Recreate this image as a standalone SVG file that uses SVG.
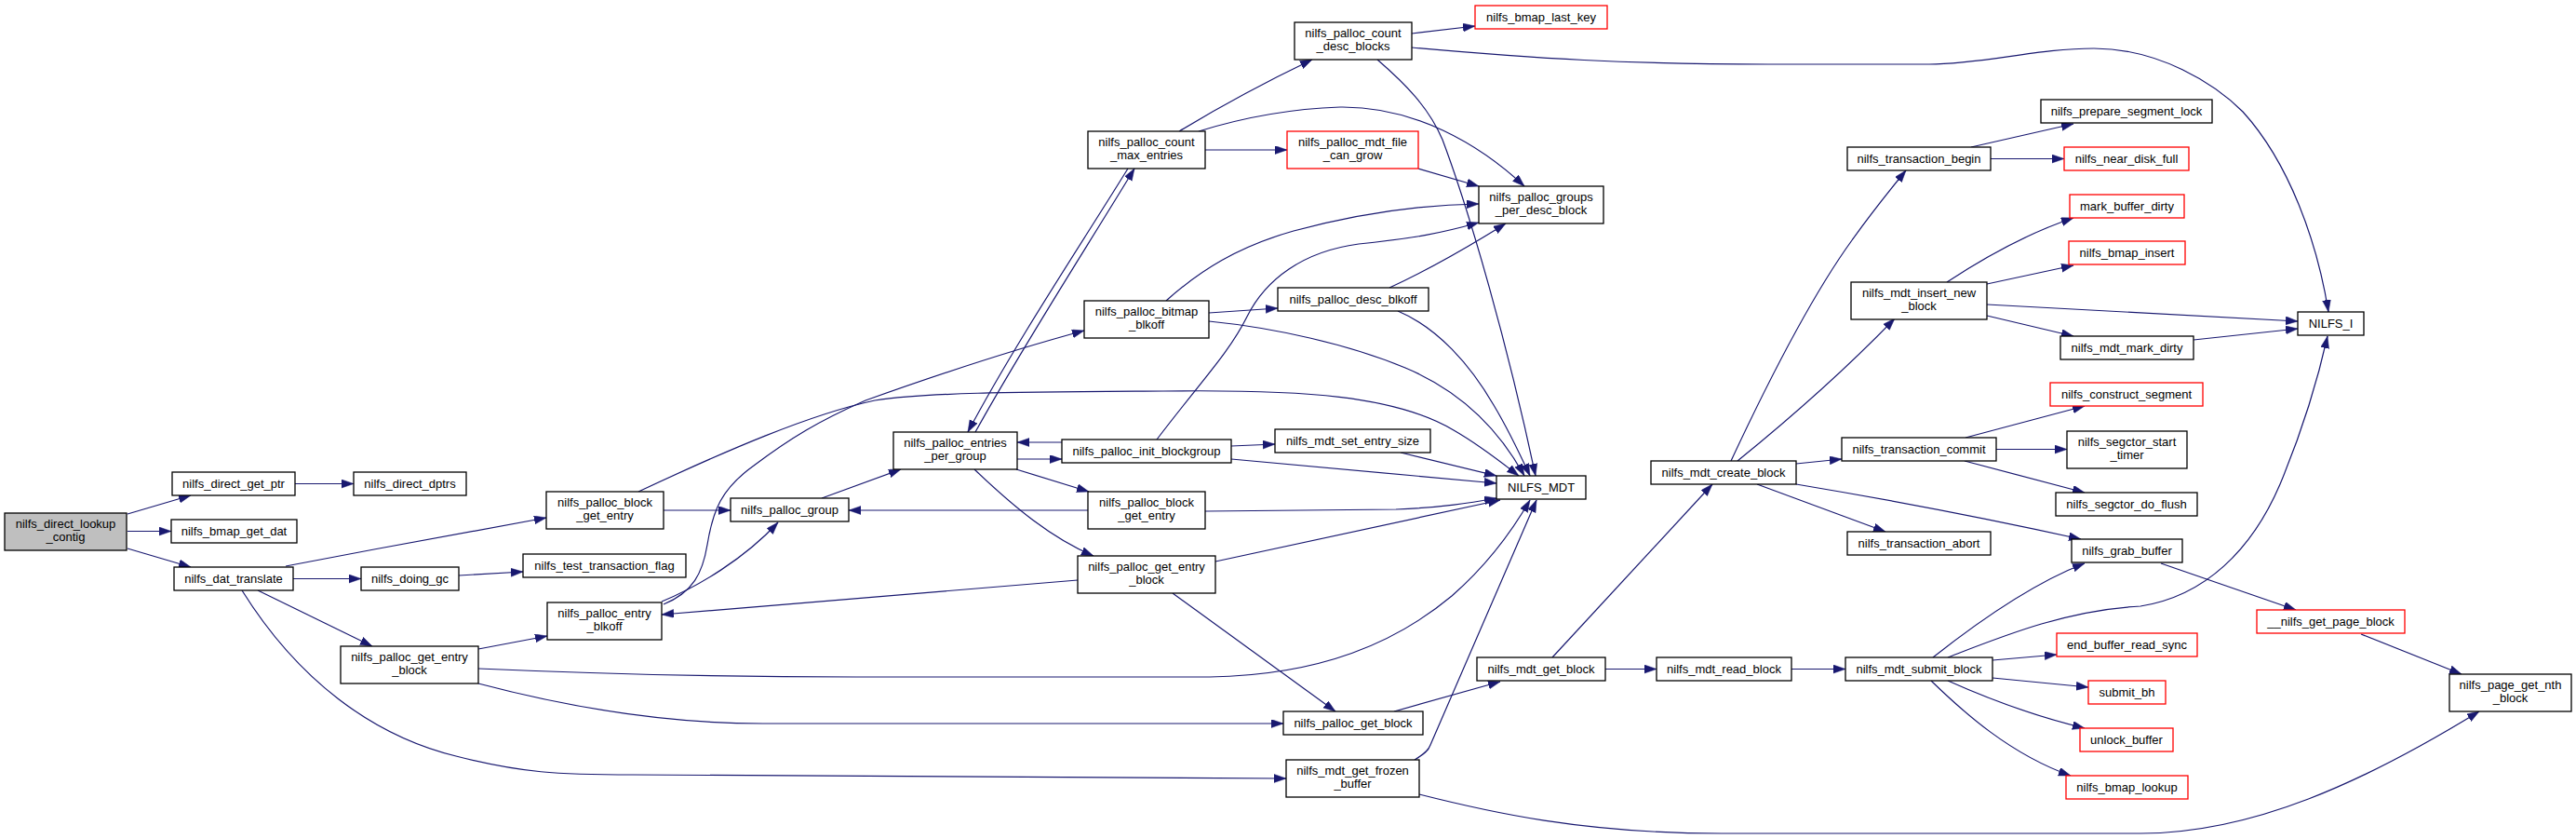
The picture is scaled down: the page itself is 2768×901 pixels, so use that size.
<svg xmlns="http://www.w3.org/2000/svg" width="2768" height="901" viewBox="0 0 2768 901">
<style>
.n rect{fill:#fff;stroke:#000;stroke-width:1.3}
.n.red rect{stroke:#ff0000}
.n.root rect{fill:#bfbfbf}
text{font-family:"Liberation Sans",Arial,Helvetica,sans-serif;font-size:13px;text-anchor:middle;fill:#000}
#edges path{fill:none;stroke:#191970;stroke-width:1.2;marker-end:url(#ah)}
</style>
<defs>
<marker id="ah" markerUnits="userSpaceOnUse" markerWidth="14" markerHeight="10" refX="13" refY="4.5" orient="auto">
<path d="M0,0 L13,4.5 L0,9 z" fill="#191970" stroke="#191970" stroke-width="0.5"/>
</marker>
</defs>
<rect width="2768" height="901" fill="#fff"/>
<g id="edges">
<path d="M137,552 L205,532"/>
<path d="M137,570.5 L184,570.5"/>
<path d="M137,589 L205,609"/>
<path d="M317,519.5 L380,519.5"/>
<path d="M307,608 C400,590 500,572 587,556"/>
<path d="M315,621.5 L388,621.5"/>
<path d="M277,634 L400,694"/>
<path d="M260,634 C320,730 400,790 490,812 C560,830 600,832 680,832 L1382,836"/>
<path d="M493,618 L562,614"/>
<path d="M514,697 L588,683"/>
<path d="M514,734 C620,762 720,777 820,777 L1379,777"/>
<path d="M514,718 C650,724 800,727 920,727 L1300,727 C1420,725 1500,690 1560,640 C1600,605 1625,570 1644,537"/>
<path d="M713,548 L785,548"/>
<path d="M686,528 C780,484 870,445 940,430 C1000,421 1100,421 1250,420 C1400,418 1500,425 1562,462 C1590,478 1610,494 1632,511"/>
<path d="M711,646 C750,630 800,600 836,561"/>
<path d="M713,649 C745,636 755,615 760,585 C766,548 775,525 810,500 C850,470 880,452 930,430 C1000,405 1080,378 1165,355"/>
<path d="M883,535 L968,504"/>
<path d="M1267,141 C1310,115 1360,88 1410,64"/>
<path d="M1295,161 L1383,161"/>
<path d="M1288,141 C1330,128 1380,117 1440,115 C1520,114 1590,155 1638,200"/>
<path d="M1212,181 C1160,265 1090,370 1040,464"/>
<path d="M1048,464 C1100,370 1170,262 1219,181"/>
<path d="M1093,493 L1141,493"/>
<path d="M1141,475 L1093,475"/>
<path d="M1092,504 L1170,528"/>
<path d="M1047,504 C1090,545 1130,578 1175,597"/>
<path d="M1243,472 C1290,410 1320,380 1340,340 C1360,300 1400,270 1460,262 C1520,256 1550,250 1589,239"/>
<path d="M1323,479 L1370,477"/>
<path d="M1323,493 L1608,519"/>
<path d="M1169,548 L912,548"/>
<path d="M1295,549 L1500,547 C1550,545 1580,540 1608,535"/>
<path d="M1158,623 L711,660"/>
<path d="M1306,603 L1612,537"/>
<path d="M1260,637 L1435,764"/>
<path d="M1517,36 L1585,28"/>
<path d="M1480,64 C1510,90 1535,115 1550,150 C1580,230 1620,370 1650,511"/>
<path d="M1517,51 C1650,63 1750,69 1900,69 L2073,69 C2130,69 2190,52 2250,52 C2320,52 2380,90 2410,120 C2460,175 2490,260 2502,335"/>
<path d="M1524,181 L1589,200"/>
<path d="M1299,336 L1373,331"/>
<path d="M1253,323 C1290,290 1330,265 1390,248 C1450,232 1520,220 1589,219"/>
<path d="M1299,345 C1370,352 1450,370 1510,395 C1570,420 1610,460 1638,511"/>
<path d="M1493,309 C1530,292 1570,270 1618,240"/>
<path d="M1502,334 C1545,352 1580,392 1605,435 C1620,460 1632,485 1644,511"/>
<path d="M1505,486 L1608,511"/>
<path d="M1498,764 L1612,732"/>
<path d="M1520,816 C1530,810 1535,806 1537,800 L1651,537"/>
<path d="M1525,853 C1600,872 1700,895 1850,895 L2300,895 C2420,895 2540,840 2664,764"/>
<path d="M1668,706 L1840,520"/>
<path d="M1725,718.5 L1780,718.5"/>
<path d="M1925,718.5 L1983,718.5"/>
<path d="M1860,495 C1895,420 1945,320 1990,258 C2010,230 2030,205 2048,183"/>
<path d="M1867,495 C1920,452 1980,400 2036,342"/>
<path d="M1930,498 L1979,493"/>
<path d="M1888,520 L2026,571"/>
<path d="M1930,520 C2050,540 2150,560 2236,579"/>
<path d="M2118,158 L2228,133"/>
<path d="M2139,170.5 L2218,170.5"/>
<path d="M2092,303 C2130,278 2180,250 2228,234"/>
<path d="M2135,305 L2228,285"/>
<path d="M2135,327 L2469,345"/>
<path d="M2135,339 L2228,361"/>
<path d="M2357,365 L2469,353"/>
<path d="M2112,470 L2240,436"/>
<path d="M2145,482.5 L2221,482.5"/>
<path d="M2111,495 L2240,529"/>
<path d="M2077,706 C2120,672 2180,628 2240,605"/>
<path d="M2093,706 C2150,684 2220,655 2300,651 C2370,640 2420,590 2450,520 C2475,460 2490,410 2501,361"/>
<path d="M2141,709 L2210,703"/>
<path d="M2141,728 L2244,738"/>
<path d="M2093,731 C2140,752 2190,770 2240,782"/>
<path d="M2075,731 C2110,765 2160,810 2225,833"/>
<path d="M2322,605 L2467,655"/>
<path d="M2537,681 L2645,724"/>
</g>
<g id="n_lookup_contig" class="n root"><rect x="5" y="551" width="131" height="40"/><text x="70.5" y="567">nilfs_direct_lookup</text><text x="70.5" y="581">_contig</text></g>
<g id="n_direct_get_ptr" class="n"><rect x="185" y="507" width="132" height="25"/><text x="251" y="524">nilfs_direct_get_ptr</text></g>
<g id="n_direct_dptrs" class="n"><rect x="380" y="507" width="121" height="25"/><text x="440.5" y="524">nilfs_direct_dptrs</text></g>
<g id="n_bmap_get_dat" class="n"><rect x="184" y="558" width="135" height="25"/><text x="251.5" y="575">nilfs_bmap_get_dat</text></g>
<g id="n_dat_translate" class="n"><rect x="187" y="609" width="128" height="25"/><text x="251" y="626">nilfs_dat_translate</text></g>
<g id="n_doing_gc" class="n"><rect x="388" y="609" width="105" height="25"/><text x="440.5" y="626">nilfs_doing_gc</text></g>
<g id="n_get_entry_block_l" class="n"><rect x="366" y="694" width="148" height="40"/><text x="440" y="710">nilfs_palloc_get_entry</text><text x="440" y="724">_block</text></g>
<g id="n_block_get_entry_l" class="n"><rect x="587" y="528" width="126" height="40"/><text x="650" y="544">nilfs_palloc_block</text><text x="650" y="558">_get_entry</text></g>
<g id="n_test_transaction_flag" class="n"><rect x="562" y="595" width="175" height="25"/><text x="649.5" y="612">nilfs_test_transaction_flag</text></g>
<g id="n_entry_blkoff" class="n"><rect x="588" y="647" width="123" height="40"/><text x="649.5" y="663">nilfs_palloc_entry</text><text x="649.5" y="677">_blkoff</text></g>
<g id="n_palloc_group" class="n"><rect x="785" y="535" width="127" height="25"/><text x="848.5" y="552">nilfs_palloc_group</text></g>
<g id="n_count_max_entries" class="n"><rect x="1169" y="141" width="126" height="40"/><text x="1232" y="157">nilfs_palloc_count</text><text x="1232" y="171">_max_entries</text></g>
<g id="n_bitmap_blkoff" class="n"><rect x="1165" y="323" width="134" height="40"/><text x="1232" y="339">nilfs_palloc_bitmap</text><text x="1232" y="353">_blkoff</text></g>
<g id="n_entries_per_group" class="n"><rect x="960" y="464" width="133" height="40"/><text x="1026.5" y="480">nilfs_palloc_entries</text><text x="1026.5" y="494">_per_group</text></g>
<g id="n_init_blockgroup" class="n"><rect x="1141" y="472" width="182" height="25"/><text x="1232" y="489">nilfs_palloc_init_blockgroup</text></g>
<g id="n_block_get_entry_r" class="n"><rect x="1169" y="528" width="126" height="40"/><text x="1232" y="544">nilfs_palloc_block</text><text x="1232" y="558">_get_entry</text></g>
<g id="n_get_entry_block_r" class="n"><rect x="1158" y="597" width="148" height="40"/><text x="1232" y="613">nilfs_palloc_get_entry</text><text x="1232" y="627">_block</text></g>
<g id="n_count_desc_blocks" class="n"><rect x="1391" y="24" width="126" height="40"/><text x="1454" y="40">nilfs_palloc_count</text><text x="1454" y="54">_desc_blocks</text></g>
<g id="n_bmap_last_key" class="n red"><rect x="1585" y="6" width="142" height="25"/><text x="1656" y="23">nilfs_bmap_last_key</text></g>
<g id="n_mdt_file_can_grow" class="n red"><rect x="1383" y="141" width="141" height="40"/><text x="1453.5" y="157">nilfs_palloc_mdt_file</text><text x="1453.5" y="171">_can_grow</text></g>
<g id="n_groups_per_desc_block" class="n"><rect x="1589" y="200" width="134" height="40"/><text x="1656" y="216">nilfs_palloc_groups</text><text x="1656" y="230">_per_desc_block</text></g>
<g id="n_desc_blkoff" class="n"><rect x="1373" y="309" width="162" height="25"/><text x="1454" y="326">nilfs_palloc_desc_blkoff</text></g>
<g id="n_set_entry_size" class="n"><rect x="1370" y="461" width="167" height="25"/><text x="1453.5" y="478">nilfs_mdt_set_entry_size</text></g>
<g id="n_NILFS_MDT" class="n"><rect x="1608" y="511" width="96" height="25"/><text x="1656" y="528">NILFS_MDT</text></g>
<g id="n_palloc_get_block" class="n"><rect x="1379" y="764" width="150" height="25"/><text x="1454" y="781">nilfs_palloc_get_block</text></g>
<g id="n_get_frozen_buffer" class="n"><rect x="1382" y="816" width="143" height="40"/><text x="1453.5" y="832">nilfs_mdt_get_frozen</text><text x="1453.5" y="846">_buffer</text></g>
<g id="n_mdt_get_block" class="n"><rect x="1587" y="706" width="138" height="25"/><text x="1656" y="723">nilfs_mdt_get_block</text></g>
<g id="n_mdt_create_block" class="n"><rect x="1774" y="495" width="156" height="25"/><text x="1852" y="512">nilfs_mdt_create_block</text></g>
<g id="n_mdt_read_block" class="n"><rect x="1780" y="706" width="145" height="25"/><text x="1852.5" y="723">nilfs_mdt_read_block</text></g>
<g id="n_transaction_begin" class="n"><rect x="1985" y="158" width="154" height="25"/><text x="2062" y="175">nilfs_transaction_begin</text></g>
<g id="n_insert_new_block" class="n"><rect x="1989" y="303" width="146" height="40"/><text x="2062" y="319">nilfs_mdt_insert_new</text><text x="2062" y="333">_block</text></g>
<g id="n_transaction_commit" class="n"><rect x="1979" y="470" width="166" height="25"/><text x="2062" y="487">nilfs_transaction_commit</text></g>
<g id="n_transaction_abort" class="n"><rect x="1985" y="571" width="154" height="25"/><text x="2062" y="588">nilfs_transaction_abort</text></g>
<g id="n_submit_block" class="n"><rect x="1983" y="706" width="158" height="25"/><text x="2062" y="723">nilfs_mdt_submit_block</text></g>
<g id="n_prepare_segment_lock" class="n"><rect x="2193" y="107" width="184" height="25"/><text x="2285" y="124">nilfs_prepare_segment_lock</text></g>
<g id="n_near_disk_full" class="n red"><rect x="2218" y="158" width="134" height="25"/><text x="2285" y="175">nilfs_near_disk_full</text></g>
<g id="n_mark_buffer_dirty" class="n red"><rect x="2224" y="209" width="123" height="25"/><text x="2285.5" y="226">mark_buffer_dirty</text></g>
<g id="n_bmap_insert" class="n red"><rect x="2223" y="259" width="125" height="25"/><text x="2285.5" y="276">nilfs_bmap_insert</text></g>
<g id="n_mdt_mark_dirty" class="n"><rect x="2214" y="361" width="143" height="25"/><text x="2285.5" y="378">nilfs_mdt_mark_dirty</text></g>
<g id="n_NILFS_I" class="n"><rect x="2469" y="335" width="71" height="25"/><text x="2504.5" y="352">NILFS_I</text></g>
<g id="n_construct_segment" class="n red"><rect x="2203" y="411" width="164" height="25"/><text x="2285" y="428">nilfs_construct_segment</text></g>
<g id="n_segctor_start_timer" class="n"><rect x="2221" y="463" width="129" height="40"/><text x="2285.5" y="479">nilfs_segctor_start</text><text x="2285.5" y="493">_timer</text></g>
<g id="n_segctor_do_flush" class="n"><rect x="2209" y="529" width="152" height="25"/><text x="2285" y="546">nilfs_segctor_do_flush</text></g>
<g id="n_grab_buffer" class="n"><rect x="2226" y="579" width="119" height="25"/><text x="2285.5" y="596">nilfs_grab_buffer</text></g>
<g id="n_get_page_block" class="n red"><rect x="2425" y="655" width="159" height="25"/><text x="2504.5" y="672">__nilfs_get_page_block</text></g>
<g id="n_end_buffer_read_sync" class="n red"><rect x="2210" y="680" width="151" height="25"/><text x="2285.5" y="697">end_buffer_read_sync</text></g>
<g id="n_submit_bh" class="n red"><rect x="2244" y="731" width="83" height="25"/><text x="2285.5" y="748">submit_bh</text></g>
<g id="n_unlock_buffer" class="n red"><rect x="2235" y="782" width="100" height="25"/><text x="2285" y="799">unlock_buffer</text></g>
<g id="n_bmap_lookup" class="n red"><rect x="2220" y="833" width="131" height="25"/><text x="2285.5" y="850">nilfs_bmap_lookup</text></g>
<g id="n_page_get_nth_block" class="n"><rect x="2632" y="724" width="131" height="40"/><text x="2697.5" y="740">nilfs_page_get_nth</text><text x="2697.5" y="754">_block</text></g>
</svg>
